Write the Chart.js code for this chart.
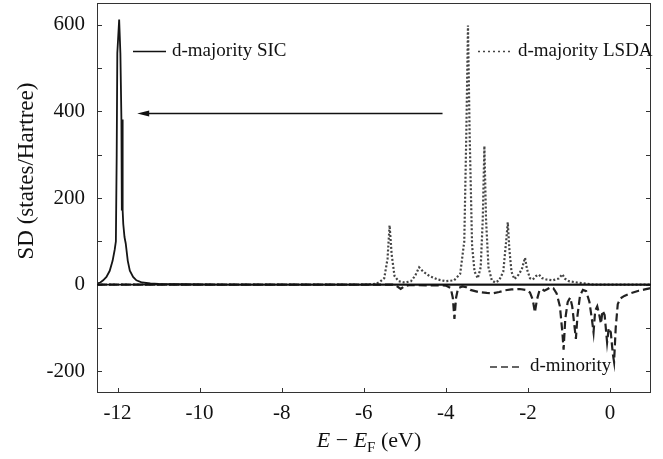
<!DOCTYPE html>
<html>
<head>
<meta charset="utf-8">
<script src="https://cdn.jsdelivr.net/npm/chart.js@4.4.0/dist/chart.umd.min.js"></script>
<style>
  body { margin: 0; background: #fff; }
  #wrap { width: 663px; height: 459px; }
</style>
</head>
<body>
<div id="wrap"><canvas id="chart" width="663" height="459"></canvas></div>
<script>
// d-majority SIC (solid)
var sicE  = [-12.5, -12.42, -12.35, -12.27, -12.19, -12.12, -12.07, -12.04, -12.02, -12.005, -11.96, -11.93, -11.905, -11.895, -11.885, -11.875, -11.86, -11.83, -11.8, -11.75, -11.7, -11.62, -11.54, -11.4, -11.2, -11.0, -10.5, -9.5, 1.0];
var sicSD = [3, 5, 10, 18, 32, 55, 80, 100, 300, 534, 612, 534, 381, 171, 381, 171, 140, 110, 95, 55, 32, 18, 10, 5, 3, 2, 1, 0, 0];

// d-majority LSDA (dotted)
var lsdaE  = [-12.5, -6.0, -5.7, -5.6, -5.5, -5.42, -5.37, -5.32, -5.25, -5.15, -5.0, -4.85, -4.75, -4.65, -4.55, -4.4, -4.2, -4.0, -3.8, -3.65, -3.55, -3.5, -3.46, -3.42, -3.36, -3.3, -3.22, -3.15, -3.1, -3.06, -3.02, -2.96, -2.88, -2.8, -2.7, -2.6, -2.53, -2.49, -2.45, -2.4, -2.33, -2.25, -2.15, -2.07, -2.02, -1.95, -1.88, -1.8, -1.73, -1.65, -1.55, -1.4, -1.25, -1.16, -1.1, -1.0, -0.8, -0.55, -0.4, 1.0];
var lsdaSD = [0, 0, 2, 7, 15, 60, 137, 70, 20, 8, 5, 8, 20, 40, 30, 20, 12, 8, 10, 25, 100, 350, 598, 350, 90, 30, 15, 40, 150, 320, 150, 40, 10, 5, 10, 30, 100, 144, 80, 30, 13, 20, 35, 62, 35, 15, 12, 20, 23, 15, 12, 10, 14, 24, 14, 8, 5, 2, 0, 0];

// d-minority (dashed)
var minE  = [-12.5, -5.3, -5.2, -5.1, -5.0, -4.9, -4.0, -3.88, -3.83, -3.79, -3.75, -3.7, -3.6, -3.5, -3.4, -3.2, -3.0, -2.85, -2.7, -2.55, -2.4, -2.2, -2.05, -1.95, -1.88, -1.83, -1.78, -1.72, -1.65, -1.6, -1.52, -1.45, -1.38, -1.3, -1.22, -1.16, -1.13, -1.09, -1.03, -0.97, -0.92, -0.86, -0.83, -0.79, -0.73, -0.66, -0.58, -0.5, -0.44, -0.4, -0.36, -0.31, -0.27, -0.22, -0.18, -0.13, -0.07, -0.03, 0.02, 0.07, 0.1, 0.14, 0.19, 0.25, 0.35, 0.5, 0.7, 0.85, 1.0];
var minSD = [0, 0, -3, -10, -3, -1, -2, -8, -30, -79, -30, -8, -4, -6, -12, -17, -19, -20, -17, -13, -11, -10, -12, -18, -35, -64, -35, -14, -10, -14, -10, -6, -8, -20, -50, -110, -150, -80, -40, -30, -50, -100, -125, -70, -25, -12, -15, -40, -80, -110, -60, -50, -65, -90, -60, -70, -133, -100, -110, -160, -178, -100, -45, -32, -26, -20, -14, -11, -8];

var xTicks = [-12, -10, -8, -6, -4, -2, 0];
var yTicks = [-200, 0, 200, 400, 600];
var yMinorTicks = [-200, -100, 0, 100, 200, 300, 400, 500, 600];

var legendLabels = ['d-majority SIC', 'd-majority LSDA', 'd-minority'];

// arrow from LSDA peaks to the SIC peak (data units)
var arrowFrom = [-4.08, 395];
var arrowTo = [-11.52, 395];

function pts(xs, ys) {
  return xs.map(function (x, i) { return { x: x, y: ys[i] }; });
}

var serif = '"Liberation Serif", "DejaVu Serif", serif';

var decor = {
  id: 'decor',
  afterDraw: function (chart) {
    var c = chart.ctx, a = chart.chartArea;
    var xs = chart.scales.x, ys = chart.scales.y;
    c.save();
    c.strokeStyle = '#333';
    c.lineWidth = 1;
    c.setLineDash([]);
    // frame
    c.strokeRect(Math.round(a.left) + 0.5, Math.round(a.top) + 0.5, Math.round(a.right - a.left) - 1, Math.round(a.bottom - a.top) - 1);
    // inward ticks
    c.beginPath();
    yMinorTicks.forEach(function (v) {
      var y = Math.round(ys.getPixelForValue(v)) + 0.5;
      c.moveTo(a.left, y); c.lineTo(a.left + 5, y);
      c.moveTo(a.right, y); c.lineTo(a.right - 5, y);
    });
    xTicks.forEach(function (v) {
      var x = Math.round(xs.getPixelForValue(v)) + 0.5;
      c.moveTo(x, a.bottom); c.lineTo(x, a.bottom - 5);
    });
    c.stroke();

    // zero line
    c.strokeStyle = '#111';
    c.lineWidth = 1.8;
    var y0 = ys.getPixelForValue(0);
    c.beginPath(); c.moveTo(a.left, y0); c.lineTo(a.right, y0); c.stroke();

    // arrow
    var x1 = xs.getPixelForValue(arrowFrom[0]), y1 = ys.getPixelForValue(arrowFrom[1]);
    var x2 = xs.getPixelForValue(arrowTo[0]), y2 = ys.getPixelForValue(arrowTo[1]);
    c.lineWidth = 1.3;
    c.beginPath(); c.moveTo(x1, y1); c.lineTo(x2 + 8, y2); c.stroke();
    c.fillStyle = '#111';
    c.beginPath(); c.moveTo(x2, y2); c.lineTo(x2 + 12, y2 - 3); c.lineTo(x2 + 12, y2 + 3); c.closePath(); c.fill();

    // legend samples
    c.lineWidth = 1.4;
    c.beginPath(); c.moveTo(133, 51.5); c.lineTo(166, 51.5); c.stroke();
    c.strokeStyle = '#444';
    c.lineWidth = 1.6;
    c.setLineDash([2, 3]);
    c.beginPath(); c.moveTo(478, 51.5); c.lineTo(512, 51.5); c.stroke();
    c.setLineDash([7, 4]);
    c.strokeStyle = '#333';
    c.beginPath(); c.moveTo(490, 367); c.lineTo(522, 367); c.stroke();
    c.setLineDash([]);

    c.fillStyle = '#111';
    c.font = '19px ' + serif;
    c.textBaseline = 'middle';
    c.textAlign = 'left';
    c.fillText(legendLabels[0], 172, 51);
    c.fillText(legendLabels[1], 518, 51);
    c.fillText(legendLabels[2], 530, 366);

    // y axis title
    c.save();
    c.translate(27, 171);
    c.rotate(-Math.PI / 2);
    c.textAlign = 'center';
    c.font = '23px ' + serif;
    c.fillText('SD (states/Hartree)', 0, 0);
    c.restore();

    // x axis title: E − E_F (eV)
    var parts = [
      { t: 'E', f: 'italic 22px ' + serif, dy: 0 },
      { t: ' \u2212 ', f: '22px ' + serif, dy: 0 },
      { t: 'E', f: 'italic 22px ' + serif, dy: 0 },
      { t: 'F', f: '15px ' + serif, dy: 5 },
      { t: ' (eV)', f: '22px ' + serif, dy: 0 }
    ];
    var total = 0;
    parts.forEach(function (p) { c.font = p.f; p.w = c.measureText(p.t).width; total += p.w; });
    var x = 369 - total / 2;
    c.textBaseline = 'alphabetic';
    parts.forEach(function (p) { c.font = p.f; c.fillText(p.t, x, 447 + p.dy); x += p.w; });
    c.restore();
  }
};

var chart = new Chart(document.getElementById('chart'), {
  type: 'line',
  data: {
    datasets: [
      { label: legendLabels[0], data: pts(sicE, sicSD), borderColor: '#151515', borderWidth: 1.8, pointRadius: 0, tension: 0, order: 0 },
      { label: legendLabels[1], data: pts(lsdaE, lsdaSD), borderColor: '#444', borderWidth: 2.2, borderDash: [2, 2], pointRadius: 0, tension: 0, order: 1 },
      { label: legendLabels[2], data: pts(minE, minSD), borderColor: '#222', borderWidth: 2.2, borderDash: [8, 4], pointRadius: 0, tension: 0, order: 2 }
    ]
  },
  options: {
    responsive: false,
    animation: false,
    layout: { padding: { top: 3, right: 12, left: 0, bottom: 0 } },
    plugins: { legend: { display: false }, tooltip: { enabled: false } },
    scales: {
      x: {
        type: 'linear', min: -12.5, max: 1,
        grid: { display: false, drawTicks: false },
        border: { display: false },
        afterBuildTicks: function (s) { s.ticks = xTicks.map(function (v) { return { value: v }; }); },
        afterFit: function (s) { s.height = 66; s.paddingLeft = 0; s.paddingRight = 0; },
        ticks: { padding: 8, color: '#111', font: { family: serif, size: 21 }, maxRotation: 0 }
      },
      y: {
        type: 'linear', min: -250, max: 650,
        grid: { display: false, drawTicks: false },
        border: { display: false },
        afterBuildTicks: function (s) { s.ticks = yTicks.map(function (v) { return { value: v }; }); },
        afterFit: function (s) { s.width = 97; s.paddingTop = 0; s.paddingBottom = 0; },
        ticks: { padding: 12, color: '#111', font: { family: serif, size: 21 } }
      }
    }
  },
  plugins: [decor]
});
</script>
</body>
</html>
